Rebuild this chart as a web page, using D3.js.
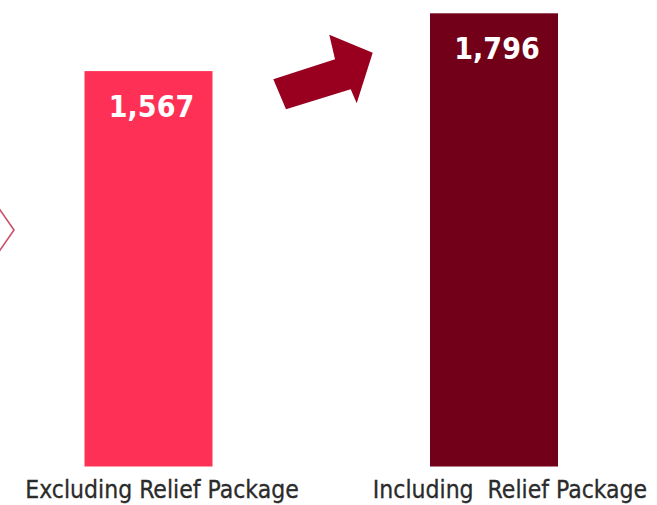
<!DOCTYPE html>
<html>
<head>
<meta charset="utf-8">
<script src="https://cdn.jsdelivr.net/npm/d3@7"></script>
<style>
  html, body { margin: 0; padding: 0; background: #fff; }
  svg { display: block; }
</style>
</head>
<body>
<svg id="chart"></svg>
<script>
// data
const categories = ['Excluding Relief Package', 'Including  Relief Package'];
const values = [1567, 1796];
const valueLabels = ['1,567', '1,796'];
const barColors = ['#FF3055', '#730019'];

const width = 657;
const height = 505;

const svg = d3.select('#chart')
  .attr('width', width)
  .attr('height', height);

const x = d3.scalePoint()
  .domain(categories)
  .range([148.5, 494]);
const barWidth = 128;

const y = d3.scaleLinear()
  .domain([0, 1796])
  .range([466.5, 13.3]);

// left chevron (cut off by the frame)
svg.append('path')
  .attr('d', 'M-2,207 L14,230 L-2,253')
  .attr('fill', 'none')
  .attr('stroke', '#C9506A')
  .attr('stroke-width', 1.6);

// bars
svg.selectAll('rect.bar')
  .data(categories)
  .enter()
  .append('rect')
  .attr('class', 'bar')
  .attr('x', d => x(d) - barWidth / 2)
  .attr('width', barWidth)
  .attr('y', (d, i) => y(values[i]))
  .attr('height', (d, i) => y(0) - y(values[i]))
  .attr('fill', (d, i) => barColors[i]);

// value labels
svg.selectAll('text.value')
  .data(categories)
  .enter()
  .append('text')
  .attr('class', 'value')
  .attr('x', d => x(d) + 3)
  .attr('y', (d, i) => y(values[i]) + 46)
  .attr('text-anchor', 'middle')
  .attr('fill', '#fff')
  .attr('font-family', '"DejaVu Sans Condensed", "DejaVu Sans", sans-serif')
  .attr('font-weight', 'bold')
  .attr('font-size', 30)
  .text((d, i) => valueLabels[i]);

// category labels
const labelShift = [13.5, 16];
svg.selectAll('text.cat')
  .data(categories)
  .enter()
  .append('text')
  .attr('class', 'cat')
  .attr('x', (d, i) => x(d) + labelShift[i])
  .attr('y', 498)
  .attr('text-anchor', 'middle')
  .attr('fill', '#2b2b2b')
  .attr('font-family', '"DejaVu Sans Condensed", "DejaVu Sans", sans-serif')
  .attr('font-size', 24.5)
  .attr('stroke', '#2b2b2b')
  .attr('stroke-width', 0.3)
  .attr('xml:space', 'preserve')
  .style('white-space', 'pre')
  .text(d => d);

// growth arrow
svg.append('path')
  .attr('d', 'M273.3,79.3 L335,59.3 L329.3,34.7 L372.7,52.7 L356.7,103.3 L350.7,89.3 L286,109.3 Z')
  .attr('fill', '#990020');
</script>
</body>
</html>
